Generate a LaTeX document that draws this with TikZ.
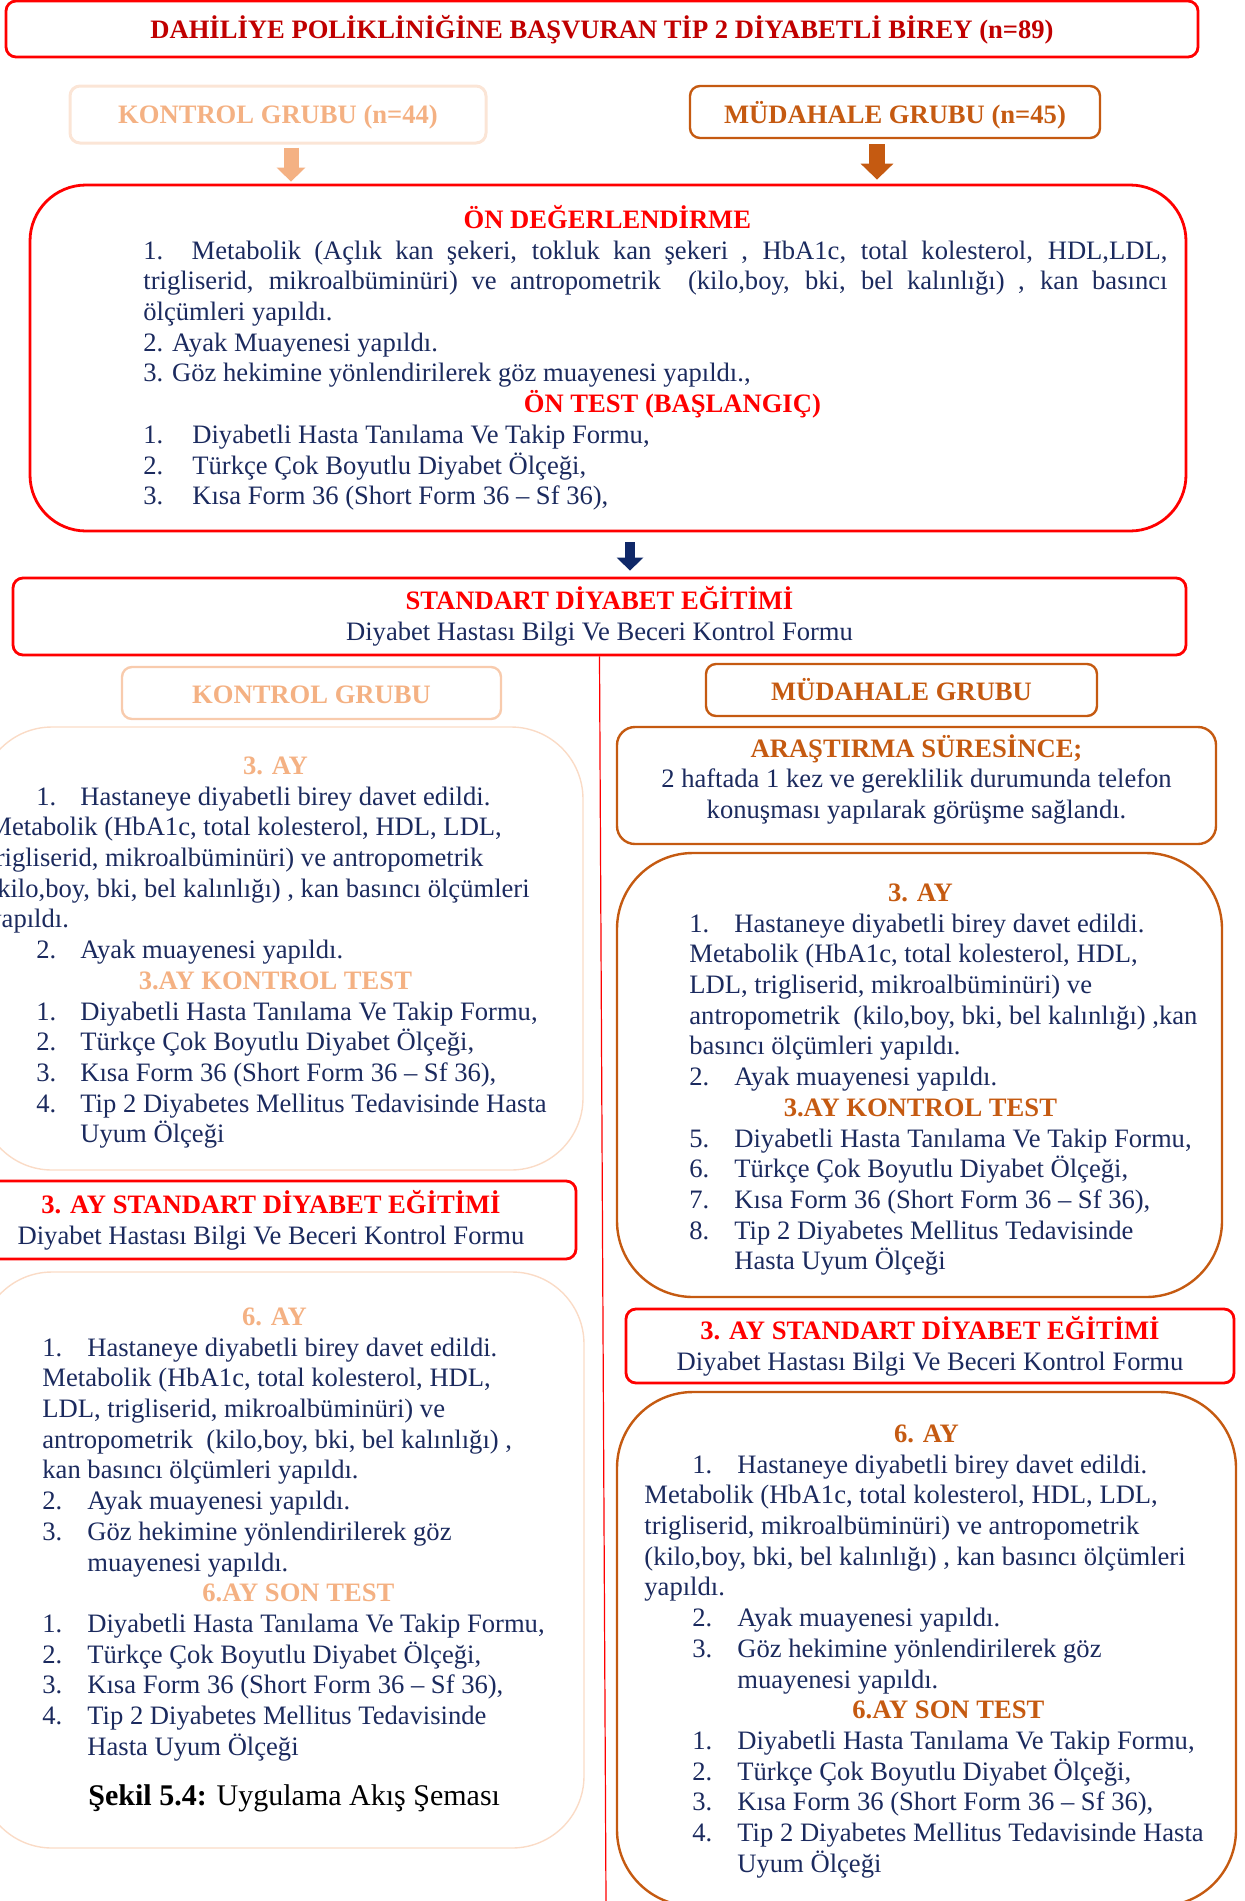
\documentclass[tikz,border=0pt]{standalone}
\usepackage{fontspec}
\setmainfont{Liberation Serif}
\usepackage{xcolor}
\definecolor{navy}{HTML}{1B2A5E}
\definecolor{darkred}{HTML}{C00000}
\definecolor{brightred}{HTML}{FF0000}
\definecolor{peach}{HTML}{F4B183}
\definecolor{peachline}{HTML}{F8CBAD}
\definecolor{peachpale}{HTML}{FBE5D6}
\definecolor{rust}{HTML}{C55A11}
\definecolor{arrownavy}{HTML}{0F2868}
\usetikzlibrary{arrows.meta}

\newcommand{\itm}[2][22.5pt]{\makebox[#1][l]{#2}}
\newcommand{\topstrut}{\rule{0pt}{14pt}}
\newcommand{\hd}[3]{\makebox[#1]{\color{#2}\bfseries #3}}

\begin{document}
\begin{tikzpicture}[
    x=0.5pt, y=-0.5pt,
    every node/.style={font=\fontsize{13.3}{15.35}\selectfont, text=navy, inner sep=0pt},
    red_box/.style={draw=brightred, line width=1.4pt, rounded corners=5pt, align=center},
    big_red/.style={draw=brightred, line width=1.4pt, rounded corners=28pt},
    rust_box/.style={draw=rust, line width=1.2pt, rounded corners=5pt, align=center},
    big_rust/.style={draw=rust, line width=1.2pt, rounded corners=38pt},
    pale_box/.style={draw=peachpale, line width=1.5pt, rounded corners=5pt},
    peach_box/.style={draw=peachline, line width=1.2pt, rounded corners=5pt},
    soft_box/.style={draw=peachline!70, line width=0.7pt, rounded corners=36pt},
    txt_block/.style={anchor=north west, align=left},
    peach_arrow/.style={-{Triangle[width=14pt,length=7pt]}, line width=7.5pt, peach},
    rust_arrow/.style={-{Triangle[width=16pt,length=8pt]}, line width=8pt, rust},
    navy_arrow/.style={-{Triangle[width=13pt,length=6.5pt]}, line width=4.75pt, arrownavy},
    red_line/.style={brightred, line width=0.6pt}
]
\useasboundingbox (0,0) rectangle (1245,1901);

  % Top: sample and groups
  \node[red_box, minimum width=596pt, minimum height=28pt, text height=11pt, text depth=2pt] (title) at (602,29)
    {\color{darkred}\bfseries DAHİLİYE POLİKLİNİĞİNE BAŞVURAN TİP 2 DİYABETLİ BİREY (n=89)};
  \node[pale_box, minimum width=208pt, minimum height=28.5pt, text height=11pt, text depth=2.5pt] (kontrol44) at (278,114.5)
    {\color{peach}\bfseries KONTROL GRUBU (n=44)};
  \node[rust_box, minimum width=205pt, minimum height=26pt, text height=12pt, text depth=1pt] (mudahale44) at (895,112)
    {\color{rust}\bfseries MÜDAHALE GRUBU (n=45)};

  % Pre-assessment
  \node[big_red, minimum width=578pt, minimum height=173pt] (ondeg) at (608,358) {};
  \node[txt_block] (ondeg_txt) at (143,200) {\topstrut\hd{464pt}{brightred}{ÖN DEĞERLENDİRME}\\
    \makebox[512pt][s]{1. Metabolik (Açlık kan şekeri, tokluk kan şekeri , HbA1c, total kolesterol, HDL,LDL,}\\
    \makebox[512pt][s]{trigliserid, mikroalbüminüri) ve antropometrik\ \ (kilo,boy, bki, bel kalınlığı) , kan basıncı}\\
    ölçümleri yapıldı.\\
    2. Ayak Muayenesi yapıldı.\\
    3. Göz hekimine yönlendirilerek göz muayenesi yapıldı.,\\
    \hd{529pt}{brightred}{ÖN TEST (BAŞLANGIÇ)}\\
    \itm[24.5pt]{1.}Diyabetli Hasta Tanılama Ve Takip Formu,\\
    \itm[24.5pt]{2.}Türkçe Çok Boyutlu Diyabet Ölçeği,\\
    \itm[24.5pt]{3.}Kısa Form 36 (Short Form 36 – Sf 36),};

  % Standard education
  \node[red_box, minimum width=586.5pt, minimum height=38.5pt] (std) at (599.5,616.5)
    {{\color{brightred}\bfseries STANDART DİYABET EĞİTİMİ}\\Diyabet Hastası Bilgi Ve Beceri Kontrol Formu};

  % Connecting Flows
  \coordinate (k_arr) at ([xshift=6.5pt,yshift=-1.5pt]kontrol44.south);
  \coordinate (m_arr) at ([xshift=-9pt,yshift=-2.5pt]mudahale44.south);
  \coordinate (o_arr) at ([xshift=11pt,yshift=-5pt]ondeg.south);
  \coordinate (split_end) at (606,1901);
  \draw[peach_arrow, shorten >=1pt] (k_arr) -- (k_arr |- ondeg.north);
  \draw[rust_arrow, shorten >=2pt] (m_arr) -- (m_arr |- ondeg.north);
  \draw[navy_arrow, shorten >=3pt] (o_arr) -- (o_arr |- std.north);
  \draw[red_line] (std.south) -- (split_end);

  % Control group column
  \node[peach_box, minimum width=189.5pt, minimum height=26pt, text height=11.4pt, text depth=1pt] (kgrp) at (311.5,693)
    {\color{peach}\bfseries KONTROL GRUBU};
  \node[soft_box, minimum width=301.5pt, minimum height=221.5pt] (k3) at (281.5,948.5) {};
  \node[txt_block] (k3_txt) at (-12,746) {\topstrut\hd{287pt}{peach}{3. AY}\\
    \hspace*{24pt}\itm[22pt]{1.}Hastaneye diyabetli birey davet edildi.\\
    Metabolik (HbA1c, total kolesterol, HDL, LDL,\\
    trigliserid, mikroalbüminüri) ve antropometrik\\
    (kilo,boy, bki, bel kalınlığı) , kan basıncı ölçümleri\\
    yapıldı.\\
    \hspace*{24pt}\itm[22pt]{2.}Ayak muayenesi yapıldı.\\
    \hd{287pt}{peach}{3.AY KONTROL TEST}\\
    \hspace*{24pt}\itm[22pt]{1.}Diyabetli Hasta Tanılama Ve Takip Formu,\\
    \hspace*{24pt}\itm[22pt]{2.}Türkçe Çok Boyutlu Diyabet Ölçeği,\\
    \hspace*{24pt}\itm[22pt]{3.}Kısa Form 36 (Short Form 36 – Sf 36),\\
    \hspace*{24pt}\itm[22pt]{4.}Tip 2 Diyabetes Mellitus Tedavisinde Hasta\\
    \hspace*{24pt}\itm[22pt]{}Uyum Ölçeği};
  \node[red_box, minimum width=305pt, minimum height=39pt] (kstd) at (271,1220)
    {{\color{brightred}\bfseries 3. AY STANDART DİYABET EĞİTİMİ}\\Diyabet Hastası Bilgi Ve Beceri Kontrol Formu};
  \node[soft_box, minimum width=302pt, minimum height=288pt] (k6) at (282,1560) {};
  \node[txt_block] (k6_txt) at (42,1297) {\topstrut\hd{232pt}{peach}{6. AY}\\
    \itm{1.}Hastaneye diyabetli birey davet edildi.\\
    Metabolik (HbA1c, total kolesterol, HDL,\\
    LDL, trigliserid, mikroalbüminüri) ve\\
    antropometrik\ \ (kilo,boy, bki, bel kalınlığı) ,\\
    kan basıncı ölçümleri yapıldı.\\
    \itm{2.}Ayak muayenesi yapıldı.\\
    \itm{3.}Göz hekimine yönlendirilerek göz\\
    \itm{}muayenesi yapıldı.\\
    \hd{256pt}{peach}{6.AY SON TEST}\\
    \itm{1.}Diyabetli Hasta Tanılama Ve Takip Formu,\\
    \itm{2.}Türkçe Çok Boyutlu Diyabet Ölçeği,\\
    \itm{3.}Kısa Form 36 (Short Form 36 – Sf 36),\\
    \itm{4.}Tip 2 Diyabetes Mellitus Tedavisinde\\
    \itm{}Hasta Uyum Ölçeği};
  \node[anchor=base west, font=\fontsize{15}{17}\selectfont, text=black] (caption) at (88,1805)
    {\textbf{Şekil 5.4:} Uygulama Akış Şeması};

  % Intervention group column
  \node[rust_box, minimum width=195.5pt, minimum height=26pt, text height=11pt, text depth=1pt] (mgrp) at (901.5,690)
    {\color{rust}\bfseries MÜDAHALE GRUBU};
  \node[rust_box, rounded corners=9pt, minimum width=299.5pt, minimum height=58.5pt] (arast) at (916.5,785.5) {};
  \node[anchor=north, align=center] (arast_txt) at ([yshift=-1.5pt]arast.north)
    {\topstrut{\color{rust}\bfseries ARAŞTIRMA SÜRESİNCE;}\\2 haftada 1 kez ve gereklilik durumunda telefon\\konuşması yapılarak görüşme sağlandı.};
  \node[big_rust, minimum width=302.5pt, minimum height=222pt] (m3) at (919.5,1075) {};
  \node[txt_block] (m3_txt) at (689,873) {\topstrut\hd{231pt}{rust}{3. AY}\\
    \itm{1.}Hastaneye diyabetli birey davet edildi.\\
    Metabolik (HbA1c, total kolesterol, HDL,\\
    LDL, trigliserid, mikroalbüminüri) ve\\
    antropometrik\ \ (kilo,boy, bki, bel kalınlığı) ,kan\\
    basıncı ölçümleri yapıldı.\\
    \itm{2.}Ayak muayenesi yapıldı.\\
    \hd{231pt}{rust}{3.AY KONTROL TEST}\\
    \itm{5.}Diyabetli Hasta Tanılama Ve Takip Formu,\\
    \itm{6.}Türkçe Çok Boyutlu Diyabet Ölçeği,\\
    \itm{7.}Kısa Form 36 (Short Form 36 – Sf 36),\\
    \itm{8.}Tip 2 Diyabetes Mellitus Tedavisinde\\
    \itm{}Hasta Uyum Ölçeği};
  \node[red_box, minimum width=304pt, minimum height=37pt] (mstd) at (930,1346)
    {{\color{brightred}\bfseries 3. AY STANDART DİYABET EĞİTİMİ}\\Diyabet Hastası Bilgi Ve Beceri Kontrol Formu};
  \node[big_rust, minimum width=309.5pt, minimum height=257pt] (m6) at (926.5,1649) {};
  \node[txt_block] (m6_txt) at (644,1414) {\topstrut\hd{282pt}{rust}{6. AY}\\
    \hspace*{24pt}\itm{1.}Hastaneye diyabetli birey davet edildi.\\
    Metabolik (HbA1c, total kolesterol, HDL, LDL,\\
    trigliserid, mikroalbüminüri) ve antropometrik\\
    (kilo,boy, bki, bel kalınlığı) , kan basıncı ölçümleri\\
    yapıldı.\\
    \hspace*{24pt}\itm{2.}Ayak muayenesi yapıldı.\\
    \hspace*{24pt}\itm{3.}Göz hekimine yönlendirilerek göz\\
    \hspace*{24pt}\itm{}muayenesi yapıldı.\\
    \hd{304pt}{rust}{6.AY SON TEST}\\
    \hspace*{24pt}\itm{1.}Diyabetli Hasta Tanılama Ve Takip Formu,\\
    \hspace*{24pt}\itm{2.}Türkçe Çok Boyutlu Diyabet Ölçeği,\\
    \hspace*{24pt}\itm{3.}Kısa Form 36 (Short Form 36 – Sf 36),\\
    \hspace*{24pt}\itm{4.}Tip 2 Diyabetes Mellitus Tedavisinde Hasta\\
    \hspace*{24pt}\itm{}Uyum Ölçeği};

\end{tikzpicture}
\end{document}
